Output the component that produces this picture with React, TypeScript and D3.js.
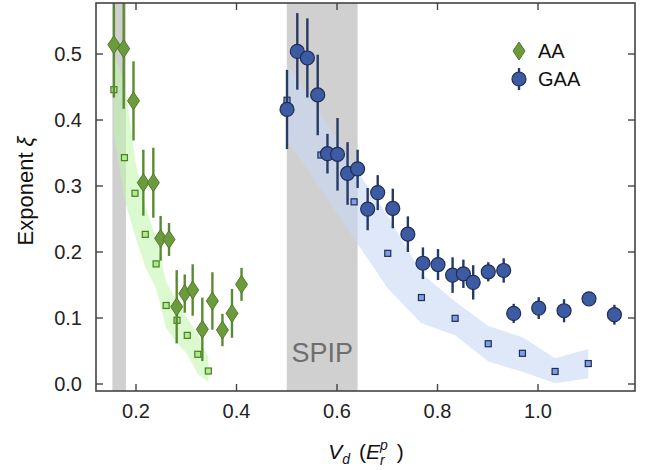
import React from 'react';
import * as d3 from 'd3';

// ---- data ----
// AA: exponent vs disorder strength (diamonds with error bars)
const aaX = [0.156, 0.1755, 0.195, 0.2146, 0.2345, 0.249, 0.2657, 0.281, 0.297, 0.3128, 0.332, 0.352, 0.372, 0.391, 0.410];
const aaY = [0.514, 0.508, 0.429, 0.305, 0.305, 0.2207, 0.219, 0.117, 0.137, 0.1424, 0.0828, 0.1258, 0.0818, 0.107, 0.151];
const aaErr = [0.08, 0.091, 0.06, 0.05, 0.053, 0.034, 0.025, 0.0555, 0.029, 0.039, 0.048, 0.0435, 0.0245, 0.037, 0.025];

// AA theory (squares) and its uncertainty band
const aaThX = [0.156, 0.177, 0.198, 0.2185, 0.240, 0.260, 0.2816, 0.302, 0.323, 0.344];
const aaThY = [0.446, 0.343, 0.289, 0.2267, 0.182, 0.119, 0.0965, 0.0737, 0.045, 0.0197];
const aaBandLo = [0.38, 0.28, 0.225, 0.177, 0.145, 0.085, 0.062, 0.045, 0.015, 0.003];
const aaBandHi = [0.50, 0.46, 0.34, 0.27, 0.22, 0.155, 0.125, 0.10, 0.075, 0.04];

// GAA: exponent vs disorder strength (circles with error bars)
const gaaX = [0.5005, 0.521, 0.541, 0.5616, 0.581, 0.601, 0.621, 0.641, 0.661, 0.681, 0.711, 0.741, 0.771, 0.801, 0.830, 0.8515, 0.871, 0.901, 0.9317, 0.9516, 1.0014, 1.0518, 1.1015, 1.152];
const gaaY = [0.416, 0.504, 0.494, 0.438, 0.349, 0.348, 0.319, 0.326, 0.265, 0.290, 0.266, 0.227, 0.183, 0.181, 0.165, 0.167, 0.154, 0.170, 0.172, 0.107, 0.115, 0.111, 0.129, 0.105];
const gaaErr = [0.06, 0.058, 0.06, 0.061, 0.03, 0.055, 0.0475, 0.029, 0.032, 0.0265, 0.03, 0.027, 0.024, 0.0235, 0.027, 0.0215, 0.026, 0.0145, 0.0185, 0.0145, 0.0165, 0.0175, 0.005, 0.015];

// GAA theory (squares) and its uncertainty band
const gaaThX = [0.5005, 0.568, 0.634, 0.701, 0.768, 0.835, 0.901, 0.969, 1.034, 1.10];
const gaaThY = [0.430, 0.347, 0.276, 0.198, 0.131, 0.0995, 0.061, 0.0465, 0.019, 0.031];
const gaaBandLo = [0.37, 0.295, 0.22, 0.145, 0.092, 0.074, 0.034, 0.0186, 0.001, 0.0086];
const gaaBandHi = [0.485, 0.41, 0.33, 0.255, 0.168, 0.125, 0.088, 0.071, 0.039, 0.053];

// shaded transition regions
const shadeRanges: [number, number][] = [[0.153, 0.18], [0.50, 0.641]];

const xTicks = [0.2, 0.4, 0.6, 0.8, 1.0];
const xTickLabels = ['0.2', '0.4', '0.6', '0.8', '1.0'];
const yTicks = [0.0, 0.1, 0.2, 0.3, 0.4, 0.5];
const yTickLabels = ['0.0', '0.1', '0.2', '0.3', '0.4', '0.5'];

// ---- layout ----
const W = 662;
const H = 470;
const L = 96, R = 635, T = 3, B = 391;
const FONT = '"Liberation Sans", Arial, Helvetica, sans-serif';

const GREEN_FILL = '#6c9b3c';
const GREEN_EDGE = '#4e7a2a';
const GREEN_BAR = '#5a8b30';
const GREEN_SQ = '#abef86';
const BLUE_FILL = '#3d5ba2';
const BLUE_EDGE = '#1f2d54';
const BLUE_BAR = '#263a66';
const BLUE_SQ = '#7e9eea';

const x = d3.scaleLinear().domain([0.1204, 1.193]).range([L, R]);
const y = d3.scaleLinear().domain([-0.0106, 0.5773]).range([B, T]);

type BandPt = { x: number; lo: number; hi: number };
const band = d3.area<BandPt>().x(d => x(d.x)).y0(d => y(d.lo)).y1(d => y(d.hi));

const aaBand: BandPt[] = aaThX.map((v, i) => ({ x: v, lo: aaBandLo[i], hi: aaBandHi[i] }));
const gaaBand: BandPt[] = gaaThX.map((v, i) => ({ x: v, lo: gaaBandLo[i], hi: gaaBandHi[i] }));

const diamond = 'M0,-9L6,0L0,9L-6,0Z';

export default function App() {
  const tickLen = 7;
  return (
    <svg width={W} height={H} style={{ position: 'absolute', left: 0, top: 0, background: '#fff' }} fontFamily={FONT}>
      <defs>
        <clipPath id="plotArea">
          <rect x={L} y={T} width={R - L} height={B - T} />
        </clipPath>
      </defs>

      <g clipPath="url(#plotArea)">
        {shadeRanges.map(([a, b], i) => (
          <rect key={i} x={x(a)} y={T} width={x(b) - x(a)} height={B - T} fill="#d0d0d0" />
        ))}
        <path d={band(aaBand) || ''} fill="rgb(190,245,170)" fillOpacity={0.55} />
        <path d={band(gaaBand) || ''} fill="rgb(200,216,245)" fillOpacity={0.6} />

        <text x={x(0.5705)} y={362} fontSize={27} fill="#6e6e6e" textAnchor="middle">SPIP</text>

        {aaThX.map((v, i) => (
          <rect key={'as' + i} x={x(v) - 3} y={y(aaThY[i]) - 3} width={6} height={6}
            fill={GREEN_SQ} stroke={GREEN_EDGE} strokeWidth={1.2} />
        ))}
        {gaaThX.map((v, i) => (
          <rect key={'gs' + i} x={x(v) - 3} y={y(gaaThY[i]) - 3} width={6} height={6}
            fill={BLUE_SQ} stroke={BLUE_EDGE} strokeWidth={1.2} />
        ))}

        {aaX.map((v, i) => (
          <line key={'ae' + i} x1={x(v)} x2={x(v)} y1={y(aaY[i] - aaErr[i])} y2={y(aaY[i] + aaErr[i])}
            stroke={GREEN_BAR} strokeWidth={2.4} />
        ))}
        {gaaX.map((v, i) => (
          <line key={'ge' + i} x1={x(v)} x2={x(v)} y1={y(gaaY[i] - gaaErr[i])} y2={y(gaaY[i] + gaaErr[i])}
            stroke={BLUE_BAR} strokeWidth={2.4} />
        ))}

        {aaX.map((v, i) => (
          <path key={'am' + i} d={diamond} transform={`translate(${x(v)},${y(aaY[i])})`}
            fill={GREEN_FILL} stroke={GREEN_EDGE} strokeWidth={1} />
        ))}
        {gaaX.map((v, i) => (
          <circle key={'gm' + i} cx={x(v)} cy={y(gaaY[i])} r={7}
            fill={BLUE_FILL} stroke={BLUE_EDGE} strokeWidth={1.2} />
        ))}
      </g>

      {/* frame and inward ticks */}
      <rect x={L} y={T} width={R - L} height={B - T} fill="none" stroke="#444" strokeWidth={1.6} />
      {xTicks.map((t, i) => (
        <g key={'xt' + i}>
          <line x1={x(t)} x2={x(t)} y1={B} y2={B - tickLen} stroke="#444" strokeWidth={1.4} />
          <line x1={x(t)} x2={x(t)} y1={T} y2={T + tickLen} stroke="#444" strokeWidth={1.4} />
          <text x={x(t)} y={418} fontSize={20} textAnchor="middle" fill="#222">{xTickLabels[i]}</text>
        </g>
      ))}
      {yTicks.map((t, i) => (
        <g key={'yt' + i}>
          <line x1={L} x2={L + tickLen} y1={y(t)} y2={y(t)} stroke="#444" strokeWidth={1.4} />
          <line x1={R} x2={R - tickLen} y1={y(t)} y2={y(t)} stroke="#444" strokeWidth={1.4} />
          <text x={82} y={y(t) + 7} fontSize={20} textAnchor="end" fill="#222">{yTickLabels[i]}</text>
        </g>
      ))}

      {/* axis titles */}
      <text transform="translate(33,191) rotate(-90)" fontSize={22} textAnchor="middle" fill="#111">
        Exponent <tspan fontStyle="italic">ξ</tspan>
      </text>
      <text x={366} y={459} fontSize={21} textAnchor="middle" fill="#111">
        <tspan fontStyle="italic">V</tspan>
        <tspan fontStyle="italic" fontSize={14} dy={5}>d</tspan>
        <tspan dy={-5} dx={9}>(</tspan>
        <tspan fontStyle="italic">E</tspan>
        <tspan fontStyle="italic" fontSize={14} dy={-9}>p</tspan>
        <tspan fontStyle="italic" fontSize={14} dx={-7.8} dy={15}>r</tspan>
        <tspan dy={-6} dx={12}>)</tspan>
      </text>

      {/* legend */}
      <g>
        <path d={diamond} transform="translate(519,51)" fill={GREEN_FILL} stroke={GREEN_EDGE} strokeWidth={1} />
        <text x={538} y={58} fontSize={20} fill="#111">AA</text>
        <line x1={519} x2={519} y1={68} y2={90} stroke={BLUE_BAR} strokeWidth={2.4} />
        <circle cx={519} cy={79} r={7} fill={BLUE_FILL} stroke={BLUE_EDGE} strokeWidth={1.2} />
        <text x={538} y={86} fontSize={20} fill="#111">GAA</text>
      </g>
    </svg>
  );
}
